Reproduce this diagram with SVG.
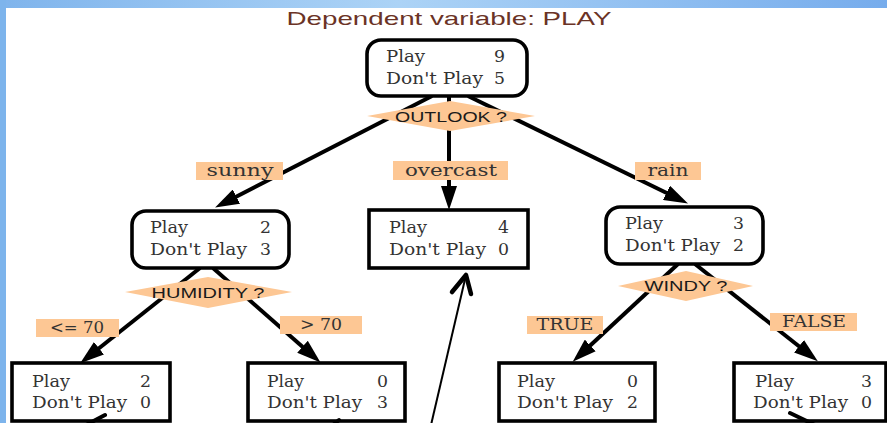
<svg xmlns="http://www.w3.org/2000/svg" width="887" height="423" viewBox="0 0 887 423">
<defs>
<linearGradient id="topband" x1="0" y1="0" x2="1" y2="0">
<stop offset="0" stop-color="#7fb4ec"/>
<stop offset="0.45" stop-color="#acd3f6"/>
<stop offset="1" stop-color="#76acec"/>
</linearGradient>
<marker id="ah" viewBox="0 0 24 16" refX="14" refY="8" markerWidth="24" markerHeight="16" markerUnits="userSpaceOnUse" orient="auto">
<path d="M0,0 L24,8 L0,16 Z" fill="#000"/>
</marker>
</defs>
<style>
.box{fill:#fff;stroke:#000;stroke-width:3.6}
.edge{fill:none;stroke:#000;stroke-width:4;marker-end:url(#ah)}
.stub{fill:none;stroke:#000;stroke-width:4;stroke-linecap:round}
.dia{fill:#fdc794}
.lblbg{fill:#fdc794}
.t{font-family:"DejaVu Serif","Liberation Serif",serif;font-size:16px;fill:#333}
.lbl{font-family:"DejaVu Serif","Liberation Serif",serif;font-size:16px;fill:#333;text-anchor:middle}
.q{font-family:"Liberation Sans",Arial,sans-serif;font-size:15px;fill:#1a1a1a;text-anchor:middle}
.title{font-family:"Liberation Sans",Arial,sans-serif;font-size:19px;fill:#6b3326;text-anchor:middle}
</style>
<rect x="0" y="0" width="887" height="423" fill="#fff"/>
<rect x="0" y="0" width="887" height="8" fill="url(#topband)"/>
<rect x="0" y="0" width="6" height="423" fill="#7db4ec"/>
<text class="title" x="449" y="25" textLength="325" lengthAdjust="spacingAndGlyphs">Dependent variable: PLAY</text>
<g id="connectors">
<path class="edge" d="M432,96 L224,203"/>
<path class="edge" d="M449,96 L449,200"/>
<path class="edge" d="M468,96 L679,199"/>
<path class="edge" d="M200,268 L88,357"/>
<path class="edge" d="M213,268 L313,356"/>
<path class="edge" d="M678,264 L580,355"/>
<path class="edge" d="M695,264 L810,355"/>
<path d="M431,425 L466,275" fill="none" stroke="#000" stroke-width="2"/>
<path d="M452,292 L466,275 L471,294" fill="none" stroke="#000" stroke-width="4.5" stroke-linecap="round" stroke-linejoin="round"/>
</g>
<g id="edge-labels">
<g id="lbl-sunny"><rect class="lblbg" x="196" y="162" width="87" height="18"/><text class="lbl" x="240" y="176" textLength="67" lengthAdjust="spacingAndGlyphs">sunny</text></g>
<g id="lbl-overcast"><rect class="lblbg" x="393" y="161" width="115" height="19"/><text class="lbl" x="451" y="176" textLength="92" lengthAdjust="spacingAndGlyphs">overcast</text></g>
<g id="lbl-rain"><rect class="lblbg" x="635" y="162" width="66" height="18"/><text class="lbl" x="668" y="176" textLength="41" lengthAdjust="spacingAndGlyphs">rain</text></g>
<g id="lbl-le70"><rect class="lblbg" x="36" y="319" width="83" height="18"/><text class="lbl" x="77" y="333" textLength="54" lengthAdjust="spacingAndGlyphs">&lt;= 70</text></g>
<g id="lbl-gt70"><rect class="lblbg" x="280" y="316" width="82" height="18"/><text class="lbl" x="321" y="330" textLength="42" lengthAdjust="spacingAndGlyphs">&gt; 70</text></g>
<g id="lbl-true"><rect class="lblbg" x="527" y="316" width="76" height="18"/><text class="lbl" x="565" y="330" textLength="57" lengthAdjust="spacingAndGlyphs">TRUE</text></g>
<g id="lbl-false"><rect class="lblbg" x="770" y="313" width="87" height="18"/><text class="lbl" x="814" y="327" textLength="64" lengthAdjust="spacingAndGlyphs">FALSE</text></g>
</g>
<g id="q-outlook"><polygon class="dia" points="367,116 450,101 535,116 450,131"/><text class="q" x="451" y="122" textLength="112" lengthAdjust="spacingAndGlyphs">OUTLOOK ?</text></g>
<g id="q-humidity"><polygon class="dia" points="125,292 208,277 292,292 208,308"/><text class="q" x="208" y="298" textLength="113" lengthAdjust="spacingAndGlyphs">HUMIDITY ?</text></g>
<g id="q-windy"><polygon class="dia" points="618,286 686,271 753,286 686,301"/><text class="q" x="686" y="291" textLength="83" lengthAdjust="spacingAndGlyphs">WINDY ?</text></g>
<g id="n-root"><rect class="box" x="367" y="40" width="160" height="56" rx="14"/>
<text class="t" x="386" y="62" textLength="39" lengthAdjust="spacingAndGlyphs">Play</text><text class="t" x="494" y="62" textLength="11" lengthAdjust="spacingAndGlyphs">9</text>
<text class="t" x="386" y="84" textLength="97" lengthAdjust="spacingAndGlyphs">Don't Play</text><text class="t" x="494" y="84" textLength="11" lengthAdjust="spacingAndGlyphs">5</text></g>
<g id="n-sunny"><rect class="box" x="132" y="211" width="157" height="57" rx="14"/>
<text class="t" x="150" y="233" textLength="38" lengthAdjust="spacingAndGlyphs">Play</text><text class="t" x="260" y="233" textLength="11" lengthAdjust="spacingAndGlyphs">2</text>
<text class="t" x="150" y="255" textLength="97" lengthAdjust="spacingAndGlyphs">Don't Play</text><text class="t" x="260" y="255" textLength="11" lengthAdjust="spacingAndGlyphs">3</text></g>
<g id="n-overcast"><rect class="box" x="369" y="210" width="159" height="58"/>
<text class="t" x="389" y="233" textLength="38" lengthAdjust="spacingAndGlyphs">Play</text><text class="t" x="498" y="233" textLength="11" lengthAdjust="spacingAndGlyphs">4</text>
<text class="t" x="389" y="255" textLength="97" lengthAdjust="spacingAndGlyphs">Don't Play</text><text class="t" x="498" y="255" textLength="11" lengthAdjust="spacingAndGlyphs">0</text></g>
<g id="n-rain"><rect class="box" x="606" y="207" width="157" height="57" rx="14"/>
<text class="t" x="625" y="229" textLength="38" lengthAdjust="spacingAndGlyphs">Play</text><text class="t" x="733" y="229" textLength="11" lengthAdjust="spacingAndGlyphs">3</text>
<text class="t" x="625" y="251" textLength="95" lengthAdjust="spacingAndGlyphs">Don't Play</text><text class="t" x="733" y="251" textLength="11" lengthAdjust="spacingAndGlyphs">2</text></g>
<g id="n-leaf1"><rect class="box" x="12" y="363" width="158" height="58"/>
<text class="t" x="32" y="387" textLength="38" lengthAdjust="spacingAndGlyphs">Play</text><text class="t" x="140" y="387" textLength="11" lengthAdjust="spacingAndGlyphs">2</text>
<text class="t" x="32" y="408" textLength="95" lengthAdjust="spacingAndGlyphs">Don't Play</text><text class="t" x="140" y="408" textLength="11" lengthAdjust="spacingAndGlyphs">0</text></g>
<g id="n-leaf2"><rect class="box" x="248" y="363" width="157" height="58"/>
<text class="t" x="267" y="387" textLength="37" lengthAdjust="spacingAndGlyphs">Play</text><text class="t" x="377" y="387" textLength="11" lengthAdjust="spacingAndGlyphs">0</text>
<text class="t" x="267" y="408" textLength="95" lengthAdjust="spacingAndGlyphs">Don't Play</text><text class="t" x="377" y="408" textLength="11" lengthAdjust="spacingAndGlyphs">3</text></g>
<g id="n-leaf3"><rect class="box" x="499" y="363" width="156" height="58"/>
<text class="t" x="517" y="387" textLength="38" lengthAdjust="spacingAndGlyphs">Play</text><text class="t" x="627" y="387" textLength="11" lengthAdjust="spacingAndGlyphs">0</text>
<text class="t" x="517" y="408" textLength="96" lengthAdjust="spacingAndGlyphs">Don't Play</text><text class="t" x="627" y="408" textLength="11" lengthAdjust="spacingAndGlyphs">2</text></g>
<g id="n-leaf4"><rect class="box" x="734" y="363" width="152" height="58"/>
<text class="t" x="755" y="387" textLength="39" lengthAdjust="spacingAndGlyphs">Play</text><text class="t" x="861" y="387" textLength="11" lengthAdjust="spacingAndGlyphs">3</text>
<text class="t" x="753" y="408" textLength="95" lengthAdjust="spacingAndGlyphs">Don't Play</text><text class="t" x="861" y="408" textLength="11" lengthAdjust="spacingAndGlyphs">0</text></g>
<g id="connector-stubs">
<path class="stub" d="M86,425 L105,415"/>
<path class="stub" d="M333,425 L339,420"/>
<path class="stub" d="M790,413 L815,425"/>
</g>
</svg>
